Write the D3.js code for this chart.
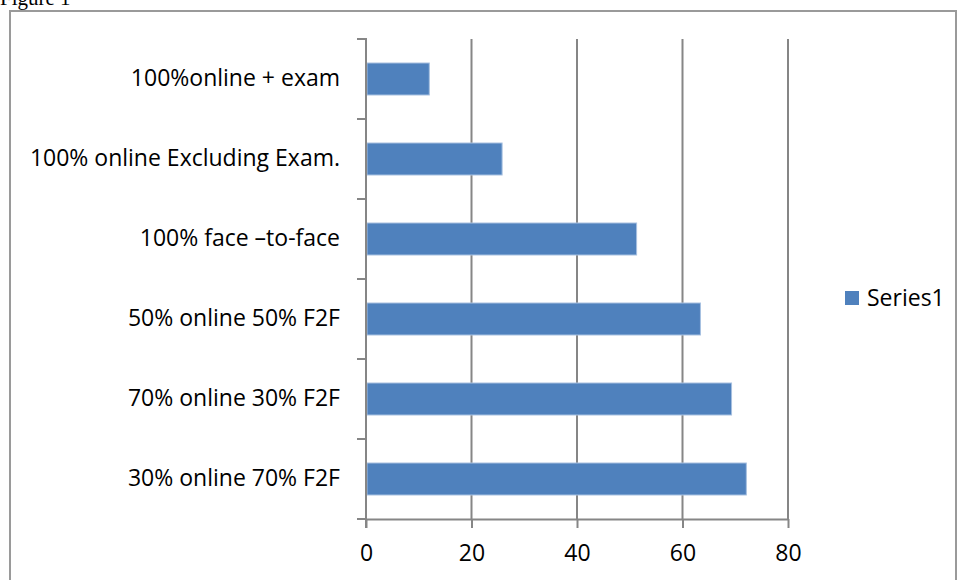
<!DOCTYPE html>
<html>
<head>
<meta charset="utf-8">
<script src="https://cdn.jsdelivr.net/npm/d3@7"></script>
<style>
  body { margin: 0; background: #fff; }
  text { font-family: "Open Sans", "Noto Sans", sans-serif; fill: #000; }
</style>
</head>
<body>
<div id="chart"></div>
<script>
// data, top to bottom as shown
var categories = ["100%online + exam", "100% online Excluding Exam.", "100% face \u2013to-face",
                  "50% online 50% F2F", "70% online 30% F2F", "30% online 70% F2F"];
var values = [12, 25.8, 51.3, 63.4, 69.3, 72.1];
var xTicks = [0, 20, 40, 60, 80];
var seriesName = "Series1";

var width = 958, height = 580;
var plot = {left: 366, right: 788, top: 39, bottom: 519};
var barColor = "#4f81bd", axisColor = "#868686";
var fontSize = "23px";

var svg = d3.select("#chart").append("svg")
  .attr("width", width)
  .attr("height", height);

// caption above the frame (cut off at the top, as in the source)
svg.append("text")
  .attr("x", 0)
  .attr("y", 5)
  .style("font-family", "'Liberation Serif', 'Times New Roman', serif")
  .style("font-size", "21px")
  .text("Figure 1");

// chart frame
svg.append("path")
  .attr("d", "M10,590 L10,11 L956,11 L956,590")
  .attr("fill", "none")
  .attr("stroke", "#9a9a9a")
  .attr("stroke-width", 2);

var x = d3.scaleLinear().domain([0, 80]).range([plot.left, plot.right]);
var y = d3.scaleBand().domain(categories).range([plot.top, plot.bottom])
  .paddingInner(0.6).paddingOuter(0.3);

// gridlines
svg.append("g")
  .selectAll("line")
  .data(xTicks.slice(1))
  .join("line")
  .attr("x1", function(d) { return x(d); })
  .attr("x2", function(d) { return x(d); })
  .attr("y1", plot.top)
  .attr("y2", plot.bottom)
  .attr("stroke", axisColor)
  .attr("stroke-width", 2);

// bars
svg.append("g")
  .selectAll("rect")
  .data(values)
  .join("rect")
  .attr("x", x(0) + 1)
  .attr("y", function(d, i) { return y(categories[i]); })
  .attr("width", function(d) { return x(d) - x(0) - 1; })
  .attr("height", y.bandwidth())
  .attr("fill", barColor)
  .attr("stroke", "#a7c0e0")
  .attr("stroke-width", 1);

// bottom axis
var xAxis = svg.append("g")
  .attr("transform", "translate(0," + plot.bottom + ")")
  .call(d3.axisBottom(x).tickValues(xTicks).tickSize(9).tickPadding(17).tickSizeOuter(0));
xAxis.select(".domain").attr("stroke", axisColor).attr("stroke-width", 2);
xAxis.selectAll(".tick line").attr("stroke", axisColor).attr("stroke-width", 2);
xAxis.selectAll("text").style("font-size", fontSize).style("font-family", "'Open Sans', sans-serif");

// left axis: labels centred on bands, ticks on band edges
var yAxis = svg.append("g")
  .attr("transform", "translate(" + plot.left + ",0)")
  .call(d3.axisLeft(y).tickSize(0).tickPadding(26));
yAxis.select(".domain").remove();
yAxis.selectAll("text").style("font-size", fontSize).style("font-family", "'Open Sans', sans-serif");

var edges = d3.range(categories.length + 1).map(function(i) { return plot.top + i * y.step(); });
svg.append("g")
  .selectAll("line")
  .data(edges)
  .join("line")
  .attr("x1", plot.left - 9)
  .attr("x2", plot.left)
  .attr("y1", function(d) { return d; })
  .attr("y2", function(d) { return d; })
  .attr("stroke", axisColor)
  .attr("stroke-width", 2);

svg.append("line")
  .attr("x1", plot.left)
  .attr("x2", plot.left)
  .attr("y1", plot.top - 1)
  .attr("y2", plot.bottom + 9)
  .attr("stroke", axisColor)
  .attr("stroke-width", 2);

// legend
var legend = svg.append("g").attr("transform", "translate(845,291)");
legend.append("rect")
  .attr("width", 14)
  .attr("height", 14)
  .attr("fill", barColor);
legend.append("text")
  .attr("x", 22)
  .attr("y", 7)
  .attr("dy", "0.35em")
  .style("font-size", fontSize)
  .text(seriesName);
</script>
</body>
</html>
